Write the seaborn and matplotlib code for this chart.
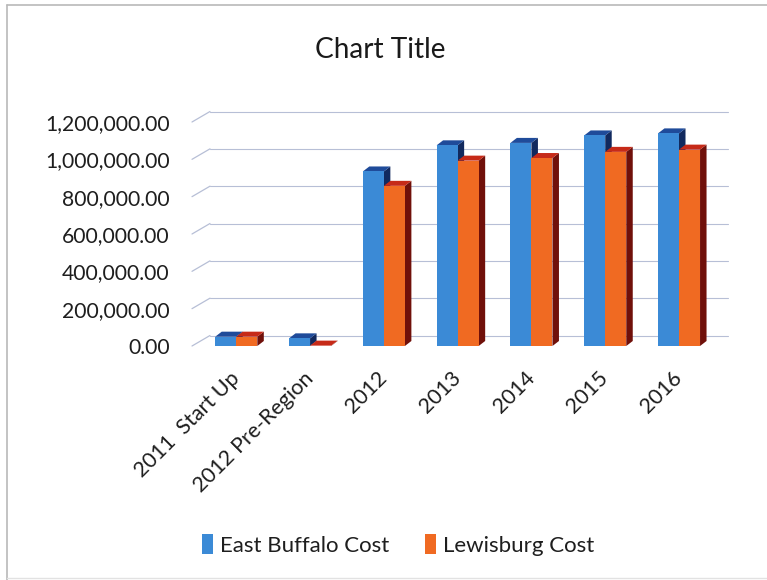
import matplotlib
matplotlib.use("Agg")
import matplotlib.pyplot as plt
from matplotlib.patches import Polygon, Rectangle
from matplotlib.lines import Line2D
import pandas as pd
import seaborn as sns

# ---- data -------------------------------------------------------------
categories = ["2011  Start Up", "2012 Pre-Region", "2012", "2013", "2014", "2015", "2016"]
east_buffalo = [50000, 41000, 935000, 1075000, 1088000, 1128000, 1139000]
lewisburg = [50000, 2000, 858000, 993000, 1007000, 1040000, 1052000]
series_names = ["East Buffalo Cost", "Lewisburg Cost"]
y_ticks = [0, 200000, 400000, 600000, 800000, 1000000, 1200000]

df = pd.DataFrame({
    "Year": categories * 2,
    "Series": [series_names[0]] * len(categories) + [series_names[1]] * len(categories),
    "Cost": east_buffalo + lewisburg,
})

# ---- styling ----------------------------------------------------------
sns.set_theme(style="white")
plt.rcParams["font.family"] = ["Lato", "DejaVu Sans"]

front = {series_names[0]: "#3b8ad6", series_names[1]: "#f06a22"}
top_c = {series_names[0]: "#1f4b9a", series_names[1]: "#c62a18"}
side_c = {series_names[0]: "#11295e", series_names[1]: "#70100a"}

W, H = 767, 580
fig = plt.figure(figsize=(W / 100, H / 100), dpi=100)

# plot area in pixels (front plane)
ax_l, ax_r, ax_b, ax_t = 192, 710, 346, 122
ax = fig.add_axes([ax_l / W, 1 - ax_b / H, (ax_r - ax_l) / W, (ax_b - ax_t) / H])

XMIN, XMAX = -0.6, 6.42
YMIN, YMAX = 0, 1200000

sns.barplot(data=df, x="Year", y="Cost", hue="Series", order=categories,
            hue_order=series_names, palette=front, width=0.57, dodge=True,
            saturation=1, linewidth=0, legend=False, ax=ax)

ax.set_xlim(XMIN, XMAX)
ax.set_ylim(YMIN, YMAX)

px_x = (ax_r - ax_l) / (XMAX - XMIN)   # pixels per category unit
px_y = (ax_b - ax_t) / (YMAX - YMIN)   # pixels per cost unit

# depth offsets: back wall and bar depth
WALL_DX, WALL_DY = 18 / px_x, 10.5 / px_y
BAR_DX, BAR_DY = 6.5 / px_x, 5 / px_y

# back wall gridlines with the short receding edges on the left
grid_col = "#b7bfd6"
for v in y_ticks:
    ax.add_line(Line2D([XMIN, XMIN + WALL_DX], [v, v + WALL_DY], color=grid_col,
                       lw=0.9, clip_on=False, zorder=0.5))
    ax.add_line(Line2D([XMIN + WALL_DX, XMAX + WALL_DX], [v + WALL_DY, v + WALL_DY],
                       color=grid_col, lw=0.8, clip_on=False, zorder=0.5))

# give every bar a top and a right-hand face
n = len(categories)
for i, bar in enumerate(ax.patches[: 2 * n]):
    s = series_names[i // n]
    x0 = bar.get_x()
    x1 = x0 + bar.get_width()
    h = bar.get_height()
    base_z = 2 + 2 * (i // n)
    top = Polygon([[x0, h], [x1, h], [x1 + BAR_DX, h + BAR_DY], [x0 + BAR_DX, h + BAR_DY]],
                  closed=True, facecolor=top_c[s], edgecolor="none", zorder=base_z,
                  clip_on=False)
    side = Polygon([[x1, 0], [x1 + BAR_DX, BAR_DY], [x1 + BAR_DX, h + BAR_DY], [x1, h]],
                   closed=True, facecolor=side_c[s], edgecolor="none", zorder=base_z,
                   clip_on=False)
    ax.add_patch(side)
    ax.add_patch(top)
    bar.set_zorder(base_z + 1)
    bar.set_clip_on(False)

for sp in ax.spines.values():
    sp.set_visible(False)
ax.grid(False)
ax.set_xlabel("")
ax.set_ylabel("")

ax.set_yticks(y_ticks)
ax.set_yticklabels([f"{v:,.2f}" for v in y_ticks], fontsize=15.2, color="#1e1e1e")
ax.tick_params(axis="y", length=0, pad=16)

ax.set_xticks(range(n))
ax.set_xticklabels(categories, rotation=45, ha="right", va="center",
                   rotation_mode="anchor", fontsize=15.5, color="#1e1e1e")
ax.tick_params(axis="x", length=0, pad=21)

# title
fig.text(380 / W, 1 - 50 / H, "Chart Title", ha="center", va="center",
         fontsize=20.2, color="#1a1a1a")

# legend
handles = [Rectangle((0, 0), 1, 1, facecolor=front[s], edgecolor="none") for s in series_names]
fig.legend(handles, series_names, loc="center", bbox_to_anchor=(398 / W, 1 - 545 / H),
           ncol=2, frameon=False, fontsize=16, handlelength=0.5, handleheight=0.95,
           handletextpad=0.3, columnspacing=1.6, labelcolor="#1e1e1e")

# outer frame of the chart area
frame_col = "#b9b9b9"
fig.add_artist(Line2D([7 / W, 7 / W], [0, 1 - 5 / H], color=frame_col, lw=1.2,
                      transform=fig.transFigure))
fig.add_artist(Line2D([7 / W, 1], [1 - 5 / H, 1 - 5 / H], color=frame_col, lw=1.2,
                      transform=fig.transFigure))
fig.add_artist(Line2D([7 / W, 1], [1 - 578 / H, 1 - 578 / H], color="#e2e2e2", lw=1,
                      transform=fig.transFigure))

fig.savefig("out.png", dpi=100)
